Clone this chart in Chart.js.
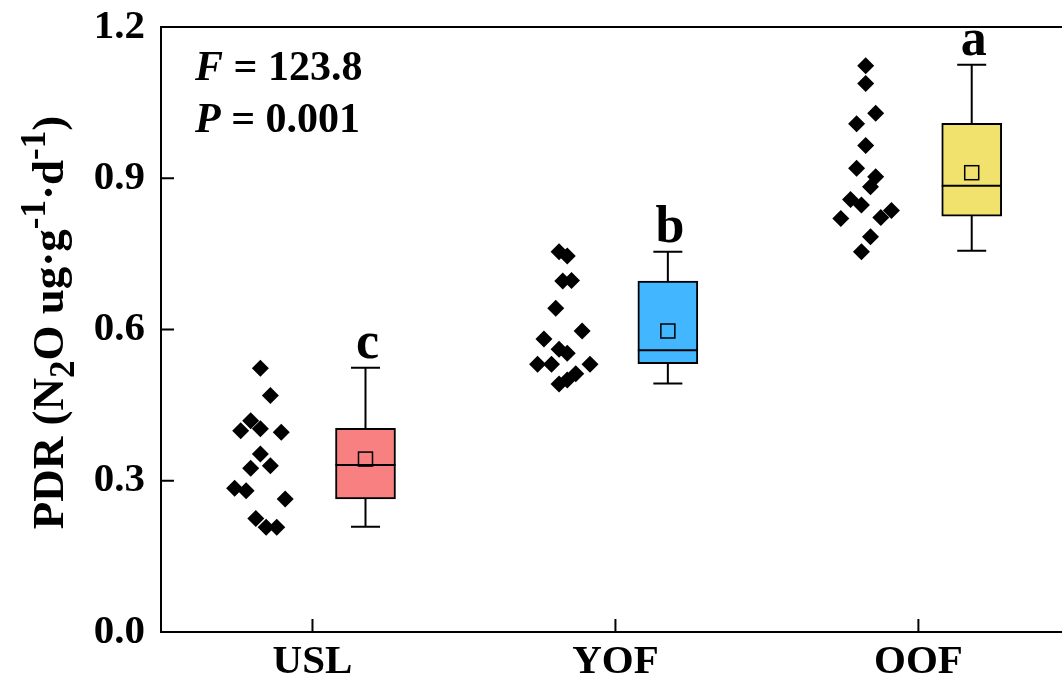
<!DOCTYPE html>
<html>
<head>
<meta charset="utf-8">
<script src="https://cdn.jsdelivr.net/npm/chart.js@4.4.0/dist/chart.umd.min.js"></script>
<style>
html, body { margin: 0; padding: 0; background: #fff; overflow: hidden; }
#pdrChart { display: block; }
</style>
</head>
<body>
<canvas id="pdrChart" width="1062" height="689"></canvas>
<script>
// categories
const groups = ['USL', 'YOF', 'OOF'];
const groupPos = [1, 2, 3];
const yTicks = [0, 0.3, 0.6, 0.9, 1.2];

// raw points (x = jittered position, y = PDR)
const uslX = [0.828, 0.861, 0.796, 0.763, 0.828, 0.897, 0.828, 0.796, 0.861, 0.743, 0.781, 0.910, 0.813, 0.847, 0.882];
const uslY = [0.523, 0.469, 0.419, 0.399, 0.403, 0.396, 0.353, 0.325, 0.330, 0.285, 0.280, 0.264, 0.225, 0.208, 0.208];
const yofX = [1.814, 1.841, 1.826, 1.855, 1.803, 1.890, 1.764, 1.814, 1.841, 1.743, 1.789, 1.916, 1.869, 1.841, 1.814];
const yofY = [0.754, 0.746, 0.696, 0.697, 0.642, 0.597, 0.581, 0.561, 0.553, 0.531, 0.531, 0.531, 0.512, 0.500, 0.492];
const oofX = [2.826, 2.826, 2.859, 2.796, 2.826, 2.796, 2.859, 2.842, 2.776, 2.812, 2.911, 2.876, 2.744, 2.842, 2.812];
const oofY = [1.123, 1.088, 1.029, 1.008, 0.965, 0.920, 0.903, 0.883, 0.858, 0.847, 0.836, 0.822, 0.820, 0.784, 0.754];

// box summaries
const boxX = [1.175, 2.173, 3.176];
const boxMin = [0.209, 0.493, 0.756];
const boxQ1 = [0.264, 0.532, 0.825];
const boxMedian = [0.331, 0.559, 0.885];
const boxQ3 = [0.404, 0.696, 1.009];
const boxMax = [0.524, 0.754, 1.125];
const boxMean = [0.343, 0.597, 0.911];
const letters = ['c', 'b', 'a'];
const boxColors = ['#f98080', '#42b7ff', '#f0e26c'];

const serif = "'Liberation Serif', 'Times New Roman', serif";

function toPoints(xs, ys) {
    return xs.map((x, i) => ({ x: x, y: ys[i] }));
}

// no automatic label padding, the plot area is fixed by hand
function noPad(scale) {
    scale.paddingTop = 0;
    scale.paddingBottom = 0;
    scale.paddingLeft = 0;
    scale.paddingRight = 0;
}

// whiskers, median, mean, letters, frame, inward ticks, labels
const extras = {
    id: 'extras',
    afterDatasetsDraw(chart) {
        const ctx = chart.ctx;
        const xs = chart.scales.x;
        const ys = chart.scales.y;
        const area = chart.chartArea;
        ctx.save();
        ctx.strokeStyle = '#000';
        ctx.lineWidth = 2;
        boxX.forEach((bx, i) => {
            const cx = xs.getPixelForValue(bx);
            const half = 30;
            const cap = 14.5;
            ctx.beginPath();
            ctx.moveTo(cx, ys.getPixelForValue(boxQ3[i]));
            ctx.lineTo(cx, ys.getPixelForValue(boxMax[i]));
            ctx.moveTo(cx - cap, ys.getPixelForValue(boxMax[i]));
            ctx.lineTo(cx + cap, ys.getPixelForValue(boxMax[i]));
            ctx.moveTo(cx, ys.getPixelForValue(boxQ1[i]));
            ctx.lineTo(cx, ys.getPixelForValue(boxMin[i]));
            ctx.moveTo(cx - cap, ys.getPixelForValue(boxMin[i]));
            ctx.lineTo(cx + cap, ys.getPixelForValue(boxMin[i]));
            ctx.moveTo(cx - half, ys.getPixelForValue(boxMedian[i]));
            ctx.lineTo(cx + half, ys.getPixelForValue(boxMedian[i]));
            ctx.stroke();
            // mean marker
            ctx.lineWidth = 1.5;
            const my = ys.getPixelForValue(boxMean[i]);
            ctx.strokeRect(cx - 7, my - 7, 14, 14);
            ctx.lineWidth = 2;
            // significance letter
            ctx.fillStyle = '#000';
            ctx.font = 'bold 52px ' + serif;
            ctx.textAlign = 'center';
            ctx.textBaseline = 'alphabetic';
            ctx.fillText(letters[i], cx + 2, ys.getPixelForValue(boxMax[i]) - 10);
        });

        // top frame line
        ctx.beginPath();
        ctx.moveTo(area.left, area.top);
        ctx.lineTo(area.right, area.top);
        ctx.stroke();

        // inward tick marks
        ctx.beginPath();
        yTicks.forEach(v => {
            const py = ys.getPixelForValue(v);
            ctx.moveTo(area.left, py);
            ctx.lineTo(area.left + 13, py);
        });
        groupPos.forEach(v => {
            const px = xs.getPixelForValue(v);
            ctx.moveTo(px, area.bottom);
            ctx.lineTo(px, area.bottom - 13);
        });
        ctx.stroke();

        // F and P statistics
        ctx.textAlign = 'left';
        ctx.textBaseline = 'alphabetic';
        const stats = [['F', ' = 123.8', 80], ['P', ' = 0.001', 132]];
        stats.forEach(s => {
            ctx.font = 'italic bold 42px ' + serif;
            ctx.fillText(s[0], 195, s[2]);
            const w = ctx.measureText(s[0]).width;
            ctx.font = 'bold 42px ' + serif;
            ctx.fillText(s[1], 195 + w, s[2]);
        });

        // y axis title with sub/superscripts
        const parts = [
            { t: 'PDR (', k: 0 },
            { t: 'N', k: 0 },
            { t: '2', k: 1 },
            { t: 'O ug\u00b7g', k: 0 },
            { t: '-1', k: -1 },
            { t: '\u00b7d', k: 0 },
            { t: '-1', k: -1 },
            { t: ')', k: 0 }
        ];
        const big = 'bold 45px ' + serif;
        const small = 'bold 35px ' + serif;
        let total = 0;
        parts.forEach(p => {
            ctx.font = p.k === 0 ? big : small;
            p.w = ctx.measureText(p.t).width;
            total += p.w;
        });
        const cy = (area.top + area.bottom) / 2 - 7;
        ctx.translate(63, cy);
        ctx.rotate(-Math.PI / 2);
        let x = -total / 2;
        parts.forEach(p => {
            ctx.font = p.k === 0 ? big : small;
            const off = p.k === 1 ? 11 : (p.k === -1 ? -18 : 0);
            ctx.fillText(p.t, x, off);
            x += p.w;
        });
        ctx.restore();
    }
};

const ctx = document.getElementById('pdrChart').getContext('2d');
new Chart(ctx, {
    data: {
        datasets: [
            {
                type: 'bar',
                data: boxX.map((x, i) => ({ x: x, y: [boxQ1[i], boxQ3[i]] })),
                backgroundColor: boxColors,
                borderColor: '#000',
                borderWidth: 2,
                borderSkipped: false,
                barThickness: 60
            },
            {
                type: 'scatter',
                data: toPoints(uslX, uslY).concat(toPoints(yofX, yofY), toPoints(oofX, oofY)),
                pointStyle: 'rectRot',
                pointRadius: 8.5,
                backgroundColor: '#000',
                borderWidth: 0
            }
        ]
    },
    options: {
        responsive: false,
        animation: false,
        layout: { autoPadding: false, padding: { top: 27, right: 0, left: 0, bottom: 0 } },
        plugins: { legend: { display: false }, tooltip: { enabled: false } },
        scales: {
            x: {
                type: 'linear',
                min: 0.5,
                max: 3.474,
                offset: false,
                grid: { display: false, drawTicks: false },
                border: { display: true, color: '#000', width: 2 },
                afterBuildTicks: scale => { scale.ticks = groupPos.map(v => ({ value: v })); },
                afterFit: scale => { scale.height = 57; noPad(scale); },
                ticks: {
                    padding: 6,
                    color: '#000',
                    font: { family: serif, size: 41, weight: 'bold' },
                    callback: v => groups[groupPos.indexOf(v)]
                }
            },
            y: {
                min: 0,
                max: 1.2,
                grid: { display: false, drawTicks: false },
                border: { display: true, color: '#000', width: 2 },
                afterBuildTicks: scale => { scale.ticks = yTicks.map(v => ({ value: v })); },
                afterFit: scale => { scale.width = 161; noPad(scale); },
                ticks: {
                    padding: 16,
                    color: '#000',
                    font: { family: serif, size: 41, weight: 'bold' },
                    callback: v => v.toFixed(1)
                }
            }
        }
    },
    plugins: [extras]
});
</script>
</body>
</html>
